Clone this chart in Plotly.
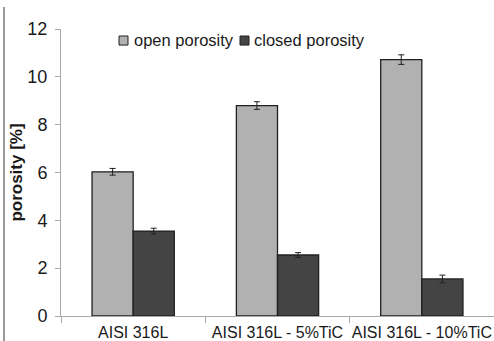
import plotly.graph_objects as go

categories = ["AISI 316L", "AISI 316L - 5%TiC", "AISI 316L - 10%TiC"]
open_porosity = [6.03, 8.80, 10.72]
open_err = [0.14, 0.16, 0.20]
closed_porosity = [3.55, 2.55, 1.55]
closed_err = [0.12, 0.10, 0.16]
y_ticks = [0, 2, 4, 6, 8, 10, 12]
series_names = ["open porosity", "closed porosity"]

FONT = "Liberation Sans, Arial, sans-serif"
OPEN_COLOR = "#b1b1b1"
CLOSED_COLOR = "#444444"
EDGE = "#202020"

fig = go.Figure()
fig.add_trace(go.Bar(
    x=categories, y=open_porosity, name=series_names[0],
    marker=dict(color=OPEN_COLOR, line=dict(color=EDGE, width=1.3)),
    error_y=dict(type="data", array=open_err, color=EDGE, thickness=1, width=3),
))
fig.add_trace(go.Bar(
    x=categories, y=closed_porosity, name=series_names[1],
    marker=dict(color=CLOSED_COLOR, line=dict(color=EDGE, width=1.3)),
    error_y=dict(type="data", array=closed_err, color=EDGE, thickness=1, width=3),
))

fig.update_layout(
    width=494, height=341,
    margin=dict(l=61, r=0, t=29, b=25),
    paper_bgcolor="white", plot_bgcolor="white",
    barmode="group", bargap=0.43, bargroupgap=0,
    font=dict(family=FONT, size=16, color="#1a1a1a"),
    showlegend=False,
    xaxis=dict(
        showline=True, linecolor="#a8a8a8", linewidth=1,
        ticks="outside", tickson="boundaries", ticklen=6, tickcolor="#a8a8a8",
        showgrid=False, tickfont=dict(size=16), ticklabelstandoff=2,
        tickangle=0, automargin=False,
    ),
    yaxis=dict(
        range=[0, 12], tickvals=y_ticks,
        showline=True, linecolor="#a8a8a8", linewidth=1,
        ticks="outside", ticklen=5, tickcolor="#a8a8a8",
        showgrid=False, zeroline=False, tickfont=dict(size=18),
        ticklabelstandoff=4, automargin=False,
        title=dict(text="<b>porosity [%]</b>", font=dict(size=17), standoff=0),
    ),
)

# compact legend (square key + label), as in the original
legend_items = [
    (series_names[0], OPEN_COLOR, 0.134, 0.1547, 0.164),
    (series_names[1], CLOSED_COLOR, 0.4134, 0.4342, 0.441),
]
for name, color, sx0, sx1, tx in legend_items:
    fig.add_shape(type="rect", xref="paper", yref="paper",
                  x0=sx0, x1=sx1, y0=0.944, y1=0.9756,
                  fillcolor=color, line=dict(color=EDGE, width=1))
    fig.add_annotation(text=name, xref="paper", yref="paper", x=tx, y=0.960,
                       xanchor="left", yanchor="middle", showarrow=False,
                       font=dict(size=16.5, family=FONT, color="#1a1a1a"))

# left frame line from the original figure border
fig.add_shape(type="line", xref="paper", yref="paper",
              x0=-0.1316, x1=-0.1316, y0=1.077, y1=-0.09,
              line=dict(color="#555555", width=1.2))

fig.write_html("out.html")
